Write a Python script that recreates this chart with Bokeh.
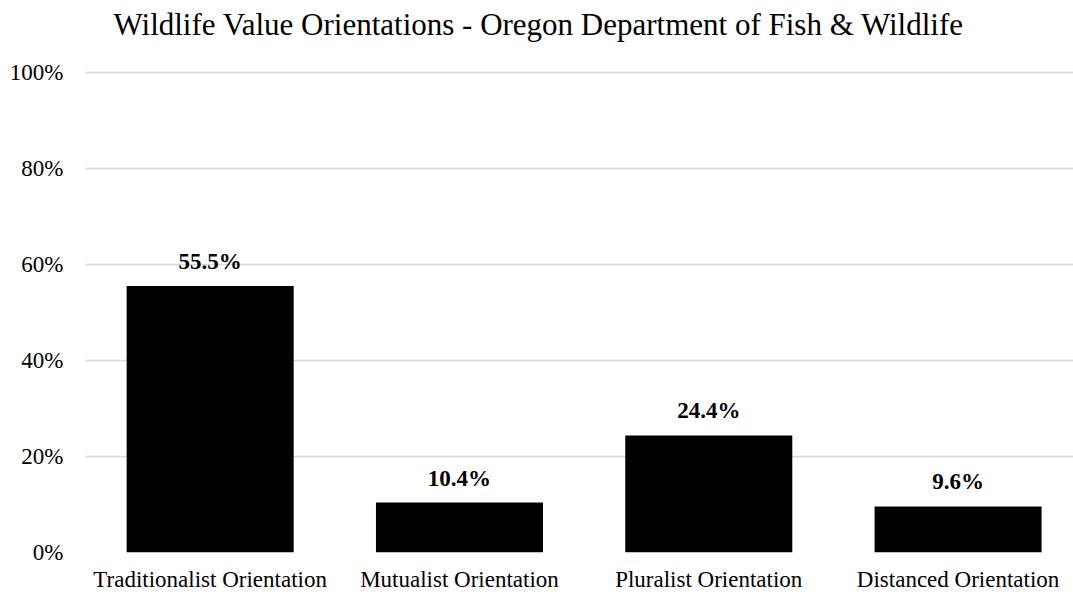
from bokeh.plotting import figure
from bokeh.models import ColumnDataSource, LabelSet, Title, FixedTicker, Range1d
from bokeh.embed import file_html
from bokeh.resources import INLINE

categories = ["Traditionalist Orientation", "Mutualist Orientation", "Pluralist Orientation", "Distanced Orientation"]
values = [55.5, 10.4, 24.4, 9.6]
value_labels = ["55.5%", "10.4%", "24.4%", "9.6%"]
y_ticks = [0, 20, 40, 60, 80, 100]
y_tick_labels = ["0%", "20%", "40%", "60%", "80%", "100%"]
title_text = "Wildlife Value Orientations - Oregon Department of Fish & Wildlife"

FONT = "Liberation Serif"
xs = list(range(len(categories)))
src = ColumnDataSource(dict(x=xs, top=values, label=value_labels))

p = figure(width=1073, height=594, output_backend="svg", toolbar_location=None,
           x_range=Range1d(-0.5, 3.463), y_range=Range1d(0, 104.8),
           min_border_left=85, min_border_right=0, min_border_top=49, min_border_bottom=42)
p.outline_line_color = None
p.background_fill_color = "white"
p.border_fill_color = "white"

p.vbar(x="x", top="top", width=0.67, source=src, fill_color="black", line_color=None)

labels = LabelSet(x="x", y="top", text="label", source=src, text_align="center",
                  text_baseline="alphabetic", y_offset=17, text_font=FONT,
                  text_font_size="23px", text_font_style="bold", text_color="black")
p.add_layout(labels)

p.xaxis.ticker = FixedTicker(ticks=xs)
p.xaxis.major_label_overrides = {i: c for i, c in zip(xs, categories)}
p.yaxis.ticker = FixedTicker(ticks=y_ticks)
p.yaxis.major_label_overrides = {t: l for t, l in zip(y_ticks, y_tick_labels)}
for ax in (p.xaxis, p.yaxis):
    ax.axis_line_color = None
    ax.major_tick_line_color = None
    ax.minor_tick_line_color = None
    ax.major_tick_out = 0
    ax.major_tick_in = 0
    ax.major_label_text_font = FONT
    ax.major_label_text_font_size = "23px"
    ax.major_label_text_color = "#000000"
p.yaxis.major_label_standoff = 22
p.xaxis.major_label_standoff = 14

p.xgrid.grid_line_color = None
p.ygrid.ticker = FixedTicker(ticks=y_ticks)
p.ygrid.grid_line_color = "#d9d9d9"
p.ygrid.grid_line_width = 1.5

title = Title(text=title_text, align="left", offset=28, standoff=12, vertical_align="top",
              text_font=FONT, text_font_size="31px", text_font_style="normal",
              text_color="black")
p.add_layout(title, "above")

open("out.html", "w").write(file_html(p, INLINE))
